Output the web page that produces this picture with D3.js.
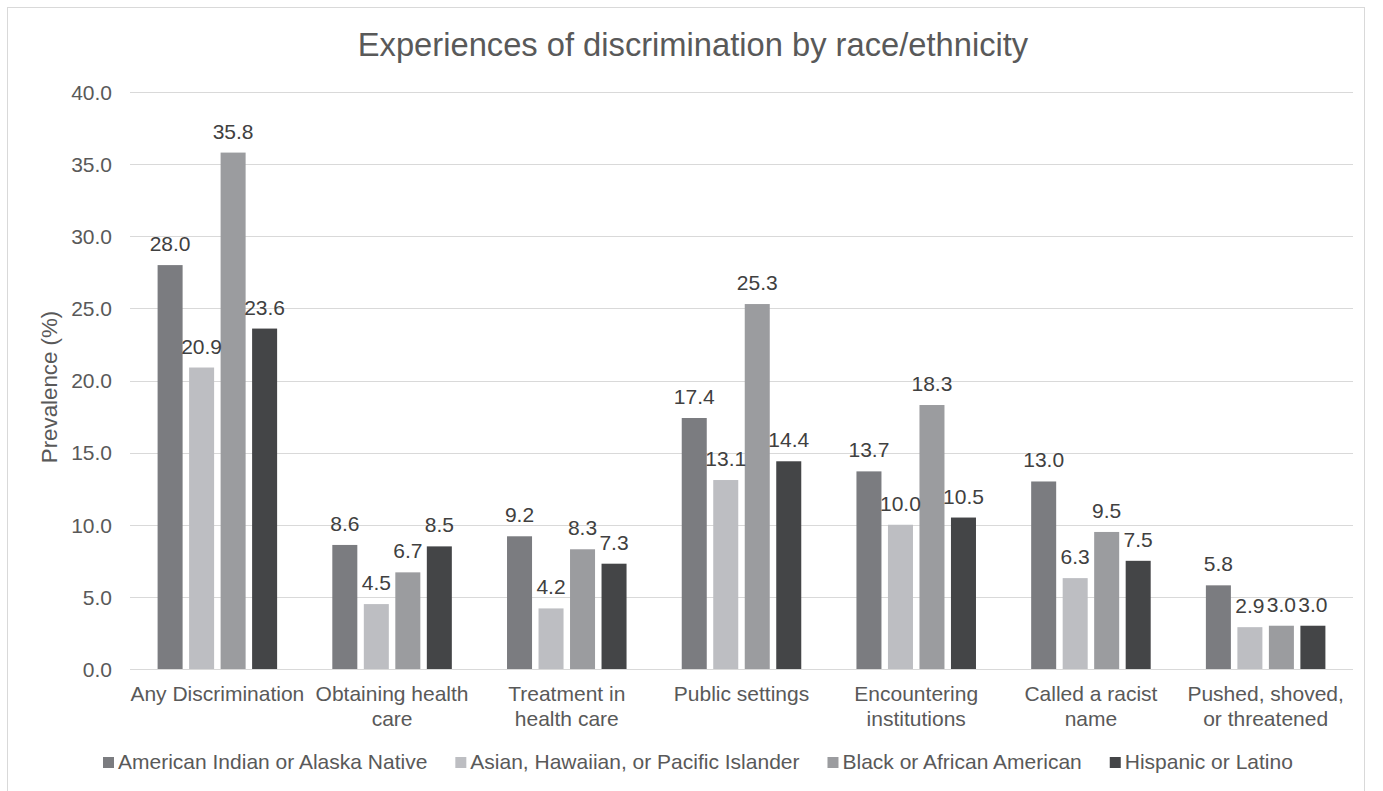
<!DOCTYPE html>
<html>
<head>
<meta charset="utf-8">
<script src="https://cdn.jsdelivr.net/npm/d3@7"></script>
<style>
  html, body { margin: 0; padding: 0; background: #fff; }
  svg { display: block; font-family: "Liberation Sans", Arial, sans-serif; }
</style>
</head>
<body>
<svg id="chart" width="1383" height="791"></svg>
<script>
const title = "Experiences of discrimination by race/ethnicity";
const yAxisTitle = "Prevalence (%)";
const categories = ["Any Discrimination", "Obtaining health care", "Treatment in health care", "Public settings", "Encountering institutions", "Called a racist name", "Pushed, shoved, or threatened"];
const categoryLines = [["Any Discrimination"], ["Obtaining health", "care"], ["Treatment in", "health care"], ["Public settings"], ["Encountering", "institutions"], ["Called a racist", "name"], ["Pushed, shoved,", "or threatened"]];
const seriesNames = ["American Indian or Alaska Native", "Asian, Hawaiian, or Pacific Islander", "Black or African American", "Hispanic or Latino"];
const seriesColors = ["#7b7c80", "#bdbec2", "#9b9c9f", "#444547"];
const aianValues = [28.0, 8.6, 9.2, 17.4, 13.7, 13.0, 5.8];
const asianValues = [20.9, 4.5, 4.2, 13.1, 10.0, 6.3, 2.9];
const blackValues = [35.8, 6.7, 8.3, 25.3, 18.3, 9.5, 3.0];
const hispanicValues = [23.6, 8.5, 7.3, 14.4, 10.5, 7.5, 3.0];
const yTicks = [0, 5, 10, 15, 20, 25, 30, 35, 40];

const seriesValues = [aianValues, asianValues, blackValues, hispanicValues];

const svg = d3.select("#chart");
const plot = { left: 130, right: 1353, top: 92, bottom: 669 };
const textColor = "#595959";
const fs = 21;

// outer border
svg.append("rect").attr("x", 7.5).attr("y", 7.5).attr("width", 1357).attr("height", 800)
  .attr("fill", "#fff").attr("stroke", "#d9d9d9").attr("stroke-width", 1);

const x0 = d3.scaleBand().domain(categories).range([plot.left, plot.right]).padding(0);
const x1 = d3.scaleBand().domain(seriesNames).range([0, x0.bandwidth()]).paddingInner(0.206).paddingOuter(0.876);
const y = d3.scaleLinear().domain([0, 40]).range([plot.bottom, plot.top]);

// gridlines
svg.append("g").selectAll("line").data(yTicks).join("line")
  .attr("x1", plot.left).attr("x2", plot.right)
  .attr("y1", d => Math.round(y(d)) + 0.5).attr("y2", d => Math.round(y(d)) + 0.5)
  .attr("stroke", "#d9d9d9").attr("stroke-width", 1);

// y axis via d3.axisLeft
const yAxis = svg.append("g").attr("transform", `translate(${plot.left - 18},0)`)
  .call(d3.axisLeft(y).tickValues(yTicks).tickFormat(d3.format(".1f")).tickSize(0).tickPadding(0));
yAxis.select(".domain").remove();
yAxis.selectAll("text").attr("fill", textColor).style("font-size", fs + "px")
  .style("font-family", "'Liberation Sans', Arial, sans-serif").attr("dy", "0.35em");

// bars
const groups = svg.append("g").selectAll("g").data(categories).join("g")
  .attr("transform", d => `translate(${x0(d)},0)`);

groups.selectAll("rect").data((c, ci) => seriesNames.map((s, si) => ({ s, si, v: seriesValues[si][ci] })))
  .join("rect")
  .attr("x", d => x1(d.s)).attr("width", x1.bandwidth())
  .attr("y", d => y(d.v)).attr("height", d => y(0) - y(d.v))
  .attr("fill", d => seriesColors[d.si]);

groups.selectAll("text.lbl").data((c, ci) => seriesNames.map((s, si) => ({ s, si, v: seriesValues[si][ci] })))
  .join("text").attr("class", "lbl")
  .attr("x", d => x1(d.s) + x1.bandwidth() / 2)
  .attr("y", d => y(d.v) - 14)
  .attr("text-anchor", "middle").attr("fill", "#404040").style("font-size", fs + "px")
  .text(d => d3.format(".1f")(d.v));

// category labels
const catG = svg.append("g");
categories.forEach((c, ci) => {
  const t = catG.append("text").attr("text-anchor", "middle").attr("fill", textColor)
    .style("font-size", fs + "px");
  categoryLines[ci].forEach((line, li) => {
    t.append("tspan").attr("x", x0(c) + x0.bandwidth() / 2).attr("y", 701 + li * 24.5).text(line);
  });
});

// title
svg.append("text").attr("x", 693).attr("y", 56).attr("text-anchor", "middle")
  .attr("fill", textColor).style("font-size", "32.7px").text(title);

// y axis title
svg.append("text").attr("transform", `translate(57,387) rotate(-90)`).attr("text-anchor", "middle")
  .attr("fill", textColor).style("font-size", "22.3px").text(yAxisTitle);

// legend
const leg = svg.append("g");
let lx = 103;
seriesNames.forEach((s, i) => {
  leg.append("rect").attr("x", lx).attr("y", 757).attr("width", 11).attr("height", 11).attr("fill", seriesColors[i]);
  const t = leg.append("text").attr("x", lx + 15).attr("y", 769).attr("fill", textColor)
    .style("font-size", fs + "px").text(s);
  const w = t.node().getComputedTextLength();
  lx = lx + 15 + w + 28;
});
</script>
</body>
</html>
